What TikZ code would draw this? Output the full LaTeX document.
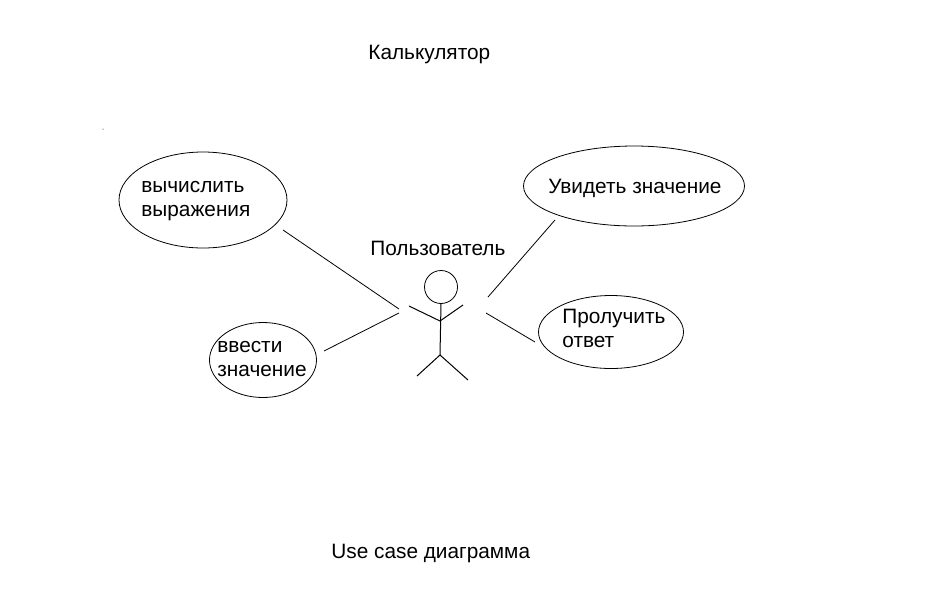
\documentclass[tikz,border=0pt]{standalone}
\usepackage{fontspec}
\setmainfont{Liberation Sans}
\usetikzlibrary{shapes.geometric}
\tikzset{
    usecase/.style={ellipse, draw, inner sep=0pt},
    caption/.style={anchor=base west, inner sep=0pt, align=left, font=\fontsize{20.8}{24}\selectfont},
    limb/.style={line width=1pt},
    assoc/.style={line width=0.8pt}
}

\begin{document}
\begin{tikzpicture}[x=1pt, y=-1pt, line width=0.8pt]
    \useasboundingbox[fill=white] (0,0) rectangle (940,603);
% Titles
    \node[caption] (title) at (368,59) {Калькулятор};
    \node[caption] (footer) at (331,558) {Use case диаграмма};
    \node[caption] (actorname) at (370,255) {Пользователь};
% Use cases
    \node[usecase, minimum width=168pt, minimum height=96pt] (calc) at (203,200) {};
    \node[usecase, minimum width=107pt, minimum height=75pt] (input) at (263,360) {};
    \node[usecase, minimum width=221pt, minimum height=80pt] (see) at (634,186) {};
    \node[usecase, minimum width=145pt, minimum height=73pt] (answer) at (611,332) {};
    \node[caption] (calctext) at (141,216) {вычислить\\выражения};
    \node[caption] (inputtext) at (217,376) {ввести\\значение};
    \node[caption] (seetext) at (548,193) {Увидеть значение};
    \node[caption] (answertext) at (562,347) {Пролучить\\ответ};
% Actor
    \node[circle, draw, inner sep=0pt, minimum size=33pt] (head) at (441,287) {};
    \coordinate (hip) at (440,355);
    \coordinate (shoulder) at (440,321);
    \coordinate (lefthand) at (409,306);
    \coordinate (righthand) at (463,305);
    \coordinate (leftfoot) at (417,376);
    \coordinate (rightfoot) at (468,380);
    \draw[limb] (head.south) -- (hip);
    \draw[limb] (lefthand) -- (shoulder) -- (righthand);
    \draw[limb] (leftfoot) -- (hip) -- (rightfoot);
% Connectors
    \coordinate (calcend) at (283,230);
    \coordinate (calcactor) at (399,309);
    \coordinate (inputend) at (324,351);
    \coordinate (inputactor) at (399,313);
    \coordinate (seeend) at (555,220);
    \coordinate (seeactor) at (488,297);
    \coordinate (answerend) at (535,342);
    \coordinate (answeractor) at (486,313);
    \draw[assoc] (calcend) -- (calcactor);
    \draw[assoc] (inputend) -- (inputactor);
    \draw[assoc] (seeend) -- (seeactor);
    \draw[assoc] (answerend) -- (answeractor);
% Speck
    \fill (103,129) circle(0.5);
\end{tikzpicture}
\end{document}
